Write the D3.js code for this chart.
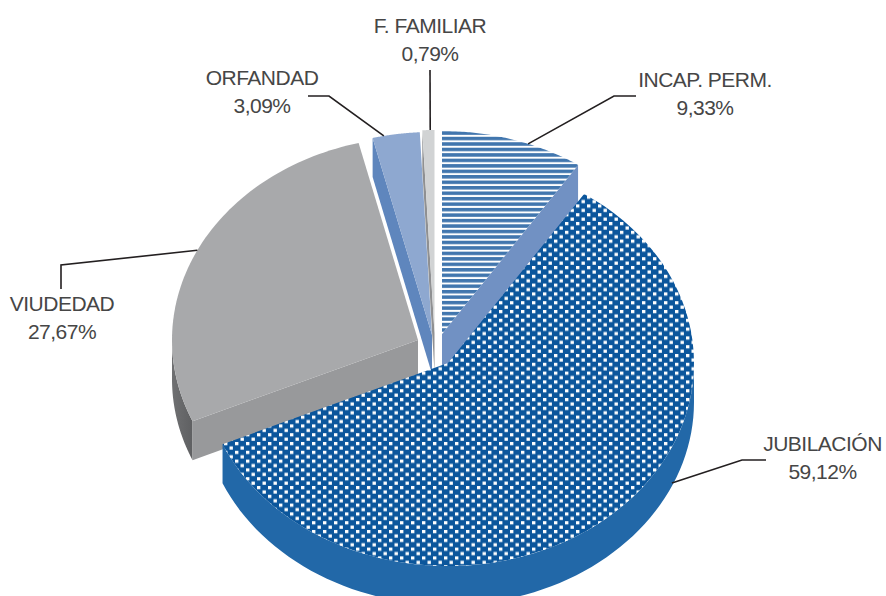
<!DOCTYPE html>
<html><head><meta charset="utf-8">
<script src="https://cdn.jsdelivr.net/npm/d3@7"></script>
<style>html,body{margin:0;background:#fff}svg{display:block}
text{font-family:"Liberation Sans",sans-serif;font-size:21px;letter-spacing:-.5px;fill:#464646;text-anchor:middle}</style>
</head><body><svg id="c" width="886" height="596"></svg>
<script>
const categories = ["INCAP. PERM.","JUBILACIÓN","VIUDEDAD","ORFANDAD","F. FAMILIAR"];
const values = [9.33,59.12,27.67,3.09,0.79];
const valueLabels = ["9,33%","59,12%","27,67%","3,09%","0,79%"];

const W=886,H=596,RX=246,RY=203,DEPTH=39;
const centers=[[442,334],[448,363],[418,340],[432,335],[434.5,333]];
const topFill=["url(#hatch)","url(#dots)","#a8a9ab","#8ea8d0","#d1d3d4"];
const cutFill=["#7191c3","none","#98999b","#5f86bd","#8f9092"];
const leaderAt=[.61,.38,.5,.24,.65];
const leaderPts=[[[614,96],[636,96]],[[742,460],[766,460]],[[61,265],[61,289]],[[329,96],[308,96]],[[430,70]]];
const labelPos=[[705,87],[822.5,451],[62,311],[262,85],[430,33]];

const svg=d3.select("#c");
const defs=svg.append("defs");
const hp=defs.append("pattern").attr("id","hatch").attr("patternUnits","userSpaceOnUse").attr("width",10).attr("height",5.47).attr("y",131.3);
hp.append("rect").attr("width",10).attr("height",5.47).attr("fill","#fff");
hp.append("rect").attr("width",10).attr("height",3.5).attr("fill","#4176ae");
const dp=defs.append("pattern").attr("id","dots").attr("patternUnits","userSpaceOnUse").attr("width",11).attr("height",8.8).attr("x",3).attr("y",1);
dp.append("rect").attr("width",11).attr("height",8.8).attr("fill","#0b569c");
dp.append("rect").attr("x",1).attr("y",1).attr("width",3.4).attr("height",3.2).attr("fill","#fff");
dp.append("rect").attr("x",6.5).attr("y",5.4).attr("width",3.4).attr("height",3.2).attr("fill","#fff");
const lg=defs.append("linearGradient").attr("id","vwall").attr("x1",0).attr("x2",1).attr("y1",0).attr("y2",0);
lg.append("stop").attr("offset",0).attr("stop-color","#6f7072");
lg.append("stop").attr("offset",1).attr("stop-color","#5f6062");

const arcs=d3.pie().sort(null).value(d=>d)(values);
const pt=(c,a,dy=0)=>[c[0]+RX*Math.sin(a),c[1]-RY*Math.cos(a)+dy];
const rim=(c,a0,a1,dy=0)=>{
  const s=d3.scaleLinear().domain([0,1]).range([a0,a1]);
  return d3.range(0,1.0001,1/72).map(t=>pt(c,s(t),dy));
};
const line=d3.line();
function topPath(c,a0,a1){return line([c,...rim(c,a0,a1)])+"Z";}
function cutPath(c,a){const p=pt(c,a);return line([c,p,[p[0],p[1]+DEPTH],[c[0],c[1]+DEPTH]])+"Z";}
function wallPath(c,a0,a1){return line([...rim(c,a0,a1),...rim(c,a1,a0,DEPTH)])+"Z";}

// back-to-front drawing
const order=[0,3,4,2,1];
order.forEach(i=>{
  const a=arcs[i],c=centers[i];
  if(i===2) svg.append("path").attr("d",wallPath(c,a.startAngle,Math.PI*1.5)).attr("fill","url(#vwall)");
  if(i===1) svg.append("path").attr("d",wallPath(c,Math.PI/2,a.endAngle)).attr("fill","#2268a8");
  if(i===0) svg.append("path").attr("d",cutPath(c,a.endAngle)).attr("fill",cutFill[i]);
  if(i===2) svg.append("path").attr("d",cutPath(c,a.startAngle)).attr("fill",cutFill[i]);
  if(i===3||i===4) svg.append("path").attr("d",cutPath(c,a.startAngle)).attr("fill",cutFill[i]);
  svg.append("path").attr("d",topPath(c,a.startAngle,a.endAngle)).attr("fill",topFill[i]);
});

// leaders and labels
categories.forEach((name,i)=>{
  const a=arcs[i],ang=a.startAngle+(a.endAngle-a.startAngle)*leaderAt[i];
  const start=pt(centers[i],ang,i===1?DEPTH-3:0);
  svg.append("path").attr("d",line([start,...leaderPts[i]])).attr("fill","none").attr("stroke","#231f20").attr("stroke-width",1.6);
  const t=svg.append("text").attr("x",labelPos[i][0]).attr("y",labelPos[i][1]);
  t.append("tspan").attr("x",labelPos[i][0]).text(name);
  t.append("tspan").attr("x",labelPos[i][0]).attr("dy",28).text(valueLabels[i]);
});
</script></body></html>
